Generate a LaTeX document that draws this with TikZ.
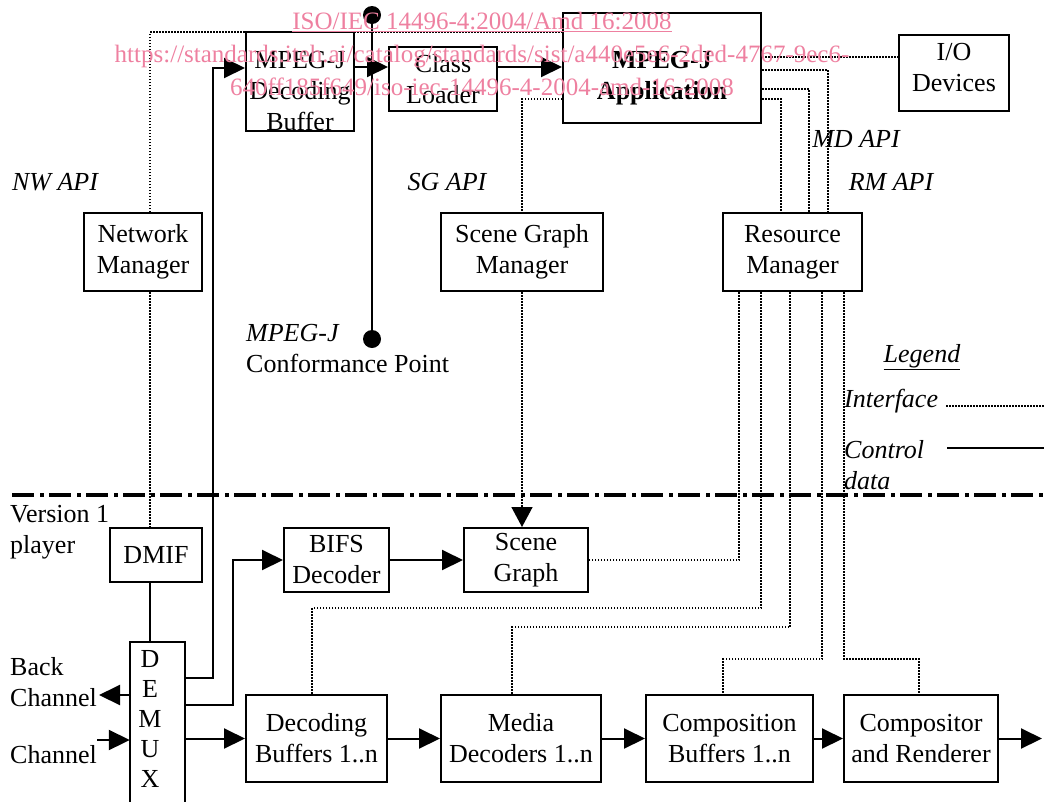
\documentclass[tikz,border=0pt]{standalone}
\usepackage{fontspec}
\setmainfont{Liberation Serif}
\usetikzlibrary{arrows.meta}
\definecolor{wm}{RGB}{238,128,160}
\begin{document}
\begin{tikzpicture}[x=1pt,y=-1pt,
  font=\fontsize{26}{31}\selectfont,
  box/.style={draw,line width=2pt,inner sep=0pt,align=center},
  boxtext/.style={inner sep=0pt,align=center},
  conn/.style={line width=2pt},
  arr/.style={line width=2pt,-{Triangle[length=21pt,width=20pt]}},
  iface/.style={line width=1.5pt,dash pattern=on 1.5pt off 1.5pt},
  ifarr/.style={iface,-{Triangle[length=20pt,width=21pt]}},
  lbl/.style={inner sep=0pt,align=left},
  api/.style={inner sep=0pt,font=\fontsize{26}{31}\selectfont\itshape},
  cpdot/.style={circle,fill,inner sep=0pt,minimum size=18pt},
  sepline/.style={line width=4.3pt,dash pattern=on 22pt off 6pt on 4pt off 5pt},
]
\useasboundingbox (0,0) rectangle (1044,801);
\clip (0,0) rectangle (1044,801);

% boxes
\node[box,minimum width=108pt,minimum height=99pt] (dbuf) at (300,81.5) {};
\node[boxtext] (dbuftxt) at (300,91.5) {MPEG-J\\Decoding\\Buffer};
\node[box,minimum width=108pt,minimum height=64pt] (cload) at (443,79) {Class\\Loader};
\node[box,minimum width=198pt,minimum height=110pt] (app) at (662,68) {};
\node[boxtext,font=\fontsize{26}{31}\selectfont\bfseries] (apptxt) at (662,78) {MPEG-J\\Application};
\node[box,minimum width=110pt,minimum height=76pt] (io) at (954,73) {};
\node[boxtext] (iotxt) at (954,68) {I/O\\Devices};
\node[box,minimum width=118pt,minimum height=78pt] (nm) at (143,252) {Network\\Manager};
\node[box,minimum width=162pt,minimum height=78pt] (sgm) at (522,252) {Scene Graph\\Manager};
\node[box,minimum width=139pt,minimum height=78pt] (rm) at (792.5,252) {Resource\\Manager};
\node[box,minimum width=92pt,minimum height=54pt] (dmif) at (156,555) {DMIF};
\node[box,minimum width=105pt,minimum height=64pt] (bifs) at (336.5,560) {BIFS\\Decoder};
\node[box,minimum width=124pt,minimum height=64pt] (sg) at (526,560) {Scene\\Graph};
\node[box,minimum width=141pt,minimum height=87pt] (dbufs) at (316.5,738.5) {Decoding\\Buffers 1..n};
\node[box,minimum width=160pt,minimum height=87pt] (mdec) at (521,738.5) {Media\\Decoders 1..n};
\node[box,minimum width=167pt,minimum height=87pt] (cbuf) at (729.5,738.5) {Composition\\Buffers 1..n};
\node[box,minimum width=154pt,minimum height=87pt] (comp) at (921,738.5) {Compositor\\and Renderer};
\node[minimum width=55pt,minimum height=180pt,inner sep=0pt] (demux) at (157.5,732) {};
\draw[conn] (demux.south west) |- (demux.north east) -- (demux.south east);
\node[inner sep=0pt,align=center,font=\fontsize{26}{30}\selectfont] (demuxtxt) at (150,719) {D\\E\\M\\U\\X};

% conformance point
\node[cpdot] (cptop) at (372,15) {};
\node[cpdot] (cpbot) at (372,339) {};
\draw[conn] (cptop) -- (cpbot);

% free ends
\coordinate (out) at (1042,738.5);
\coordinate (backtip) at (99,695);
\coordinate (chstart) at (97,740);
\coordinate (ifL) at (946,406);
\coordinate (ifR) at (1044,406);
\coordinate (cdL) at (947,448);
\coordinate (cdR) at (1044,448);
\coordinate (sepL) at (12,495);
\coordinate (sepR) at (1044,495);

% control data
\draw[arr] ([yshift=14.5pt]dbuf.east) -- ([yshift=12pt]cload.west);
\draw[arr] ([yshift=12pt]cload.east) -- ([yshift=1pt]app.west);
\draw[arr] (demux.east |- 0,678) -- (213,678) |- ([yshift=13.5pt]dbuf.west);
\draw[arr] (demux.east |- 0,705) -- (233,705) |- (bifs.west);
\draw[arr] (bifs.east) -- (sg.west);
\draw[arr] (demux.east |- dbufs.west) -- (dbufs.west);
\draw[arr] (dbufs.east) -- (mdec.west);
\draw[arr] (mdec.east) -- (cbuf.west);
\draw[arr] (cbuf.east) -- (comp.west);
\draw[arr] (comp.east) -- (out);
\draw[arr] (demux.west |- backtip) -- (backtip);
\draw[arr] (chstart) -- (demux.west |- chstart);
\draw[conn] ([xshift=-6pt]dmif.south) -- ([xshift=-7.5pt]demux.north);

% interfaces
\draw[iface] ([xshift=7pt]nm.north) |- ([yshift=36pt]app.west);
\draw[iface] ([xshift=7pt]nm.south) -- ([xshift=-6pt]dmif.north);
\draw[iface] ([yshift=-31pt]app.west) -| (sgm.north);
\draw[ifarr] (sgm.south) -- (sgm.south |- sg.north);
\draw[iface] ([yshift=11pt]app.east) -- ([yshift=16pt]io.west);
\draw[iface] ([yshift=-2pt]app.east) -| ([xshift=35.5pt]rm.north);
\draw[iface] ([yshift=-21pt]app.east) -| ([xshift=16.5pt]rm.north);
\draw[iface] ([yshift=-31pt]app.east) -| ([xshift=-11.5pt]rm.north);
\draw[iface] ([xshift=-53.5pt]rm.south) |- (sg.east);
\draw[iface] ([xshift=-31.5pt]rm.south) |- (312,608) -- ([xshift=-4.5pt]dbufs.north);
\draw[iface] ([xshift=-2.5pt]rm.south) |- (512,627) -- ([xshift=-9pt]mdec.north);
\draw[iface] ([xshift=29.5pt]rm.south) |- (723,659) -- ([xshift=-6.5pt]cbuf.north);
\draw[iface] ([xshift=51.5pt]rm.south) |- (919,659) -- ([xshift=-2pt]comp.north);

% separator
\draw[sepline] (sepL) -- (sepR);

% labels
\node[api] (nwapi) at (55,182) {NW API};
\node[api] (sgapi) at (447,182) {SG API};
\node[api] (mdapi) at (856,139) {MD API};
\node[api] (rmapi) at (891,182) {RM API};
\node[lbl,anchor=west] (cptxt) at (246,349) {\textit{MPEG-J}\\Conformance Point};
\node[api] (legend) at (922,357) {\underline{Legend}};
\node[api,anchor=west] (legif) at (844,401) {Interface};
\node[api,anchor=west,align=left] (legcd) at (844,465) {Control\\data};
\node[lbl,anchor=west] (ver) at (10,532) {Version 1\\player};
\node[lbl,anchor=west] (back) at (10,682) {Back\\Channel};
\node[lbl,anchor=west] (chan) at (10,755) {Channel};

% legend lines
\draw[iface] (ifL) -- (ifR);
\draw[conn] (cdL) -- (cdR);

% watermark
\node[text=wm,align=center,inner sep=0pt,font=\fontsize{25}{33}\selectfont] (wmark) at (482,54) {\underline{ISO/IEC 14496-4:2004/Amd 16:2008}\\https://standards.iteh.ai/catalog/standards/sist/a440e5e6-2ded-4767-9ec6-\\640ff185f649/iso-iec-14496-4-2004-amd-16-2008};
\end{tikzpicture}
\end{document}
